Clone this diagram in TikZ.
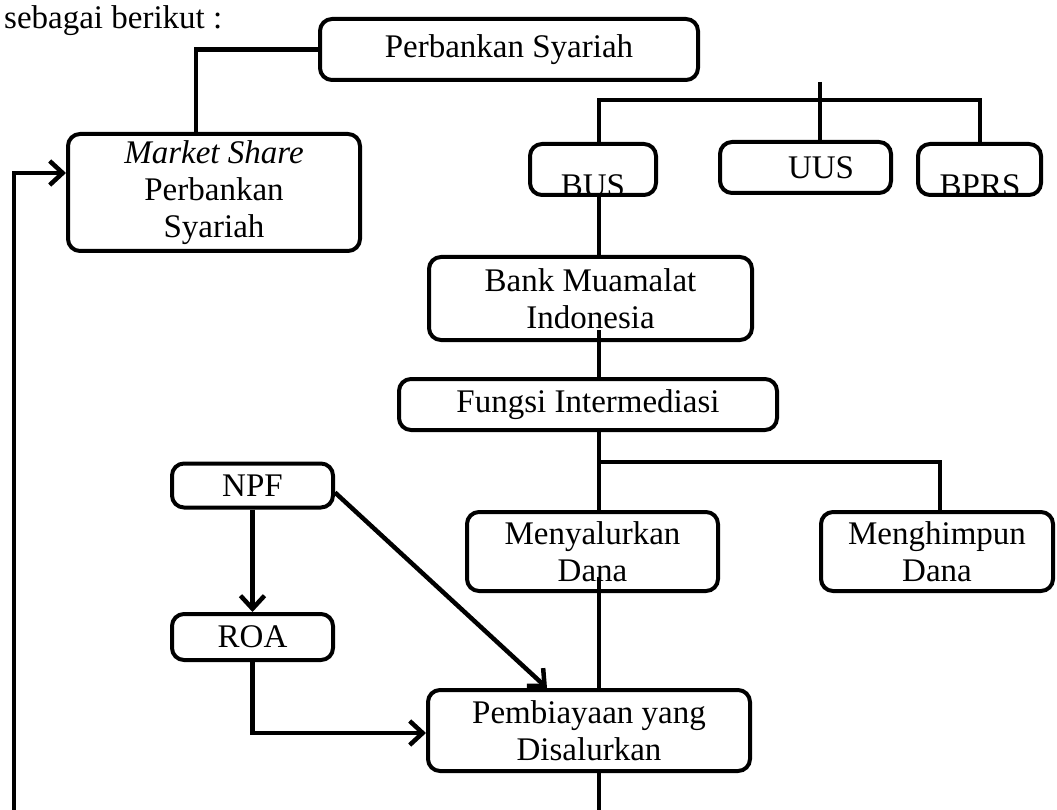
\documentclass[tikz,border=0pt]{standalone}
\usepackage{fontspec}
\setmainfont{Liberation Serif}
\usetikzlibrary{arrows.meta,calc}
\begin{document}
\begin{tikzpicture}[x=1pt,y=-1pt,
  box/.style={draw=black, line width=4pt, rounded corners=12pt, fill=white, align=center, inner sep=0pt, font=\fontsize{33}{37}\selectfont},
  txt/.style={inner sep=0pt, font=\fontsize{33}{37}\selectfont, align=center},
  conn/.style={line width=4.5pt},
  arr/.style={conn, -{Straight Barb[length=13pt,width=24pt]}}
]
\fill[white] (0,0) rectangle (1057,810);
\useasboundingbox (0,0) rectangle (1057,810);

\node[txt, anchor=base west] (intro) at (4,29) {sebagai berikut :};

% boxes
\node[box, minimum width=378pt, minimum height=61pt] (ps) at (509,49.5) {Perbankan Syariah};
\node[box, minimum width=292pt, minimum height=117pt] (ms) at (214,192.5) {\textit{Market Share}\\Perbankan\\Syariah};
\node[box, minimum width=126pt, minimum height=51pt] (bus) at (593,169.5) {};
\node[box, minimum width=171pt, minimum height=51pt] (uus) at (805.5,167.5) {};
\node[box, minimum width=123pt, minimum height=51pt] (bprs) at (979.5,169.5) {};
\node[box, minimum width=323pt, minimum height=83pt] (bmi) at (590.5,298.5) {Bank Muamalat\\Indonesia};
\node[box, minimum width=378pt, minimum height=51pt] (fi) at (588,404.5) {Fungsi Intermediasi};
\node[box, minimum width=251pt, minimum height=79pt] (my) at (592.5,551.5) {Menyalurkan\\Dana};
\node[box, minimum width=232pt, minimum height=79pt] (mh) at (937,551.5) {Menghimpun\\Dana};
\node[box, minimum width=161pt, minimum height=44pt] (npf) at (252.5,485.5) {NPF};
\node[box, minimum width=161pt, minimum height=46pt] (roa) at (252.5,637) {ROA};
\node[box, minimum width=322pt, minimum height=81pt] (pb) at (589,730.5) {Pembiayaan yang\\Disalurkan};

% labels of the small boxes
\node[txt] (uust) at (821,168) {UUS};
\begin{scope}
  \clip ([xshift=2pt,yshift=2pt]bus.south west) rectangle ([xshift=-2pt,yshift=-2pt]bus.north east);
  \node[txt] (bust) at (593,186) {BUS};
\end{scope}
\begin{scope}
  \clip ([xshift=2pt,yshift=2pt]bprs.south west) rectangle ([xshift=-2pt,yshift=-2pt]bprs.north east);
  \node[txt] (bprst) at (980,186) {BPRS};
\end{scope}

% coordinates
\coordinate (c1) at (196,132);
\coordinate (bj) at (599,100);
\coordinate (bj2) at (980,100);
\coordinate (bmiin) at (599,330);
\coordinate (fj) at (599,462);
\coordinate (fj2) at (940,462);
\coordinate (myin) at (599,577);
\coordinate (lb) at (14,840);
\coordinate (la) at (14,173);

% connectors
\draw[conn] (ps.west) -| (c1);
\draw[conn] ([xshift=311pt]ps.south) -- ([xshift=14.5pt]uus.north);
\draw[conn] (bus.north -| bj) -- (bj) -- (bj2) -- (bprs.north -| bj2);
\draw[conn] (bus.south -| bj) -- (bmi.north -| bj);
\draw[conn] (bmiin) -- (fi.north -| bmiin);
\draw[conn] (fi.south -| fj) -- (my.north -| fj);
\draw[conn] (fj) -- (fj2) -- (mh.north -| fj2);
\draw[conn] (myin) -- (pb.north -| myin);
\draw[arr] (npf) -- (roa);
\draw[arr] ([yshift=-7pt]npf.east) -- ([xshift=-42pt]pb.north);
\draw[arr] (roa.south) |- ([yshift=-2.5pt]pb.west);
\draw[arr] (pb.south -| myin) -- (myin |- lb) -- (lb) -- (la) -- (la -| ms.west);
\end{tikzpicture}
\end{document}
